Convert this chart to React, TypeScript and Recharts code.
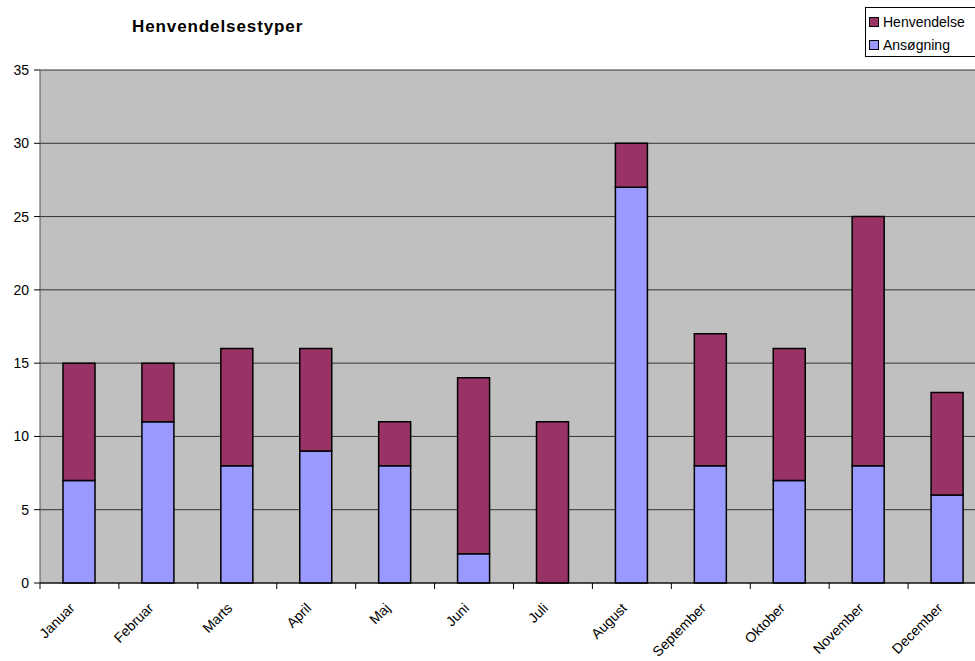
import React from "react";
import { BarChart, Bar, XAxis, YAxis, CartesianGrid, Legend } from "recharts";

const months = ["Januar", "Februar", "Marts", "April", "Maj", "Juni", "Juli", "August", "September", "Oktober", "November", "December"];
const ansoegning = [7, 11, 8, 9, 8, 2, 0, 27, 8, 7, 8, 6];
const henvendelse = [8, 4, 8, 7, 3, 12, 11, 3, 9, 9, 17, 7];
const yTicks = [0, 5, 10, 15, 20, 25, 30, 35];

const data = months.map((m, i) => ({ month: m, Ansøgning: ansoegning[i], Henvendelse: henvendelse[i] }));

const COLOR_H = "#993366";
const COLOR_A = "#9999FF";
const FONT = "Liberation Sans, Arial, sans-serif";

const XTick = (props: any) => {
  const { x, y, payload, width } = props;
  const half = width / months.length / 2;
  const tx = x - 4;
  const ty = y + 18;
  return (
    <g>
      <line x1={x - half} y1={y - 8} x2={x - half} y2={y - 2} stroke="#000" strokeWidth={1} />
      <text
        x={tx}
        y={ty}
        textAnchor="end"
        fontSize={14}
        fontFamily={FONT}
        fill="#000"
        transform={`rotate(-45 ${tx} ${ty})`}
      >
        {payload.value}
      </text>
    </g>
  );
};

const LegendContent = () => {
  const items = [
    { name: "Henvendelse", color: COLOR_H },
    { name: "Ansøgning", color: COLOR_A },
  ];
  return (
    <div
      style={{
        border: "1px solid #000",
        background: "#fff",
        width: 130,
        height: 50,
        boxSizing: "border-box",
        padding: "3px 0 0 3px",
        fontFamily: FONT,
        fontSize: 14,
        color: "#000",
      }}
    >
      {items.map((it) => (
        <div key={it.name} style={{ display: "flex", alignItems: "center", height: 22, marginBottom: 1 }}>
          <span
            style={{
              display: "inline-block",
              width: 10,
              height: 10,
              boxSizing: "border-box",
              background: it.color,
              border: "1px solid #000",
              marginRight: 4,
            }}
          />
          <span style={{ whiteSpace: "nowrap" }}>{it.name}</span>
        </div>
      ))}
    </div>
  );
};

export default function App() {
  return (
    <div style={{ position: "fixed", left: 0, top: 0, width: 975, height: 661, overflow: "hidden", background: "#fff" }}>
      <div
        style={{
          position: "absolute",
          left: 132,
          top: 18,
          lineHeight: 1,
          fontFamily: FONT,
          fontWeight: "bold",
          fontSize: 17,
          letterSpacing: 0.9,
          color: "#000",
          zIndex: 2,
          whiteSpace: "nowrap",
        }}
      >
        Henvendelsestyper
      </div>
      <BarChart
        width={990}
        height={661}
        data={data}
        margin={{ top: 70, right: 3, bottom: 0, left: 0 }}
        barSize={32}
      >
        <CartesianGrid vertical={false} fill="#C0C0C0" stroke="#333" strokeOpacity={1} />
        <XAxis
          dataKey="month"
          height={78}
          interval={0}
          tick={<XTick />}
          tickLine={false}
          axisLine={{ stroke: "#000" }}
        />
        <YAxis
          width={40}
          domain={[0, 35]}
          ticks={yTicks}
          interval={0}
          tickSize={6}
          tickMargin={5}
          tick={{ fontSize: 14, fontFamily: FONT, fill: "#000" }}
          tickLine={{ stroke: "#000" }}
          axisLine={{ stroke: "#555" }}
        />
        <Legend
          layout="vertical"
          align="center"
          verticalAlign="middle"
          content={<LegendContent />}
          wrapperStyle={{ left: 865, top: 7, width: 130, height: 50 }}
        />
        <Bar dataKey="Ansøgning" stackId="a" fill={COLOR_A} stroke="#000" strokeWidth={1.5} isAnimationActive={false} />
        <Bar dataKey="Henvendelse" stackId="a" fill={COLOR_H} stroke="#000" strokeWidth={1.5} isAnimationActive={false} />
      </BarChart>
    </div>
  );
}
